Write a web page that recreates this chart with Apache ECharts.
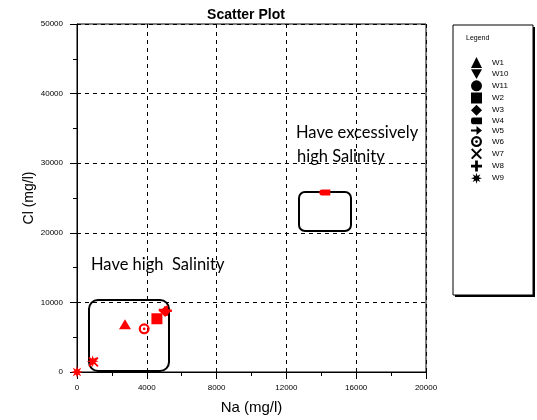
<!DOCTYPE html>
<html>
<head>
<meta charset="utf-8">
<script src="https://cdn.jsdelivr.net/npm/echarts@6/dist/echarts.min.js"></script>
<style>
  html, body { margin: 0; padding: 0; background: #fff; }
  #chart { width: 537px; height: 420px; }
</style>
</head>
<body>
<div id="chart"></div>
<script>
// Well names, in legend order
const wells = ['W1', 'W10', 'W11', 'W2', 'W3', 'W4', 'W5', 'W6', 'W7', 'W8', 'W9'];

// [Na (mg/l), Cl (mg/l)] samples per well
const W1 = [[2750, 6850]];
const W10 = [];
const W11 = [];
const W2 = [[4580, 7650]];
const W3 = [[5050, 8700]];
const W4 = [[14200, 25800]];
const W5 = [[5000, 8900]];
const W6 = [[3850, 6200]];
const W7 = [[950, 1450]];
const W8 = [[5150, 8800]];
const W9 = [[0, 0], [900, 1550]];

const xTicks = { min: 0, max: 20000, step: 4000 };
const yTicks = { min: 0, max: 50000, step: 10000 };

const seriesData = { W1, W10, W11, W2, W3, W4, W5, W6, W7, W8, W9 };

// Marker shapes
const shapes = {
  W1: 'triangle',
  W10: 'path://M0,0 L20,0 L10,18 Z',
  W11: 'circle',
  W2: 'rect',
  W3: 'diamond',
  W4: 'path://M0,4 Q0,0 4,0 L16,0 L16,8 L4,8 Q0,8 0,4 Z',
  W5: 'path://M0,5 L9,5 L9,1 L18,7 L9,13 L9,9 L0,9 Z',
  W6: 'path://M10,0 A10,10 0 1,1 10,20 A10,10 0 1,1 10,0 Z M10,4 A6,6 0 1,0 10,16 A6,6 0 1,0 10,4 Z M10,7.5 A2.5,2.5 0 1,1 10,12.5 A2.5,2.5 0 1,1 10,7.5 Z',
  W7: 'path://M2,0 L8,6 L14,0 L16,2 L10,8 L16,14 L14,16 L8,10 L2,16 L0,14 L6,8 L0,2 Z',
  W8: 'path://M6,0 L10,0 L10,6 L16,6 L16,10 L10,10 L10,16 L6,16 L6,10 L0,10 L0,6 L6,6 Z',
  W9: 'path://M20,10 L14.16,11.72 L17.07,17.07 L11.72,14.16 L10,20 L8.28,14.16 L2.93,17.07 L5.84,11.72 L0,10 L5.84,8.28 L2.93,2.93 L8.28,5.84 L10,0 L11.72,5.84 L17.07,2.93 L14.16,8.28 Z'
};
const sizes = {
  W1: [12, 10], W10: 11, W11: 11, W2: 11, W3: 11, W4: [11, 6],
  W5: [11, 8], W6: 11, W7: 10, W8: 10, W9: 12
};
// legend icon sizes keep each shape's proportions
const legendShapes = {
  W4: 'path://M0,2 Q0,0 2,0 L10,0 L10,6 L2,6 Q0,6 0,4 Z',
  W5: 'path://M0,4 L5,4 L5,1 L10,5 L5,9 L5,6 L0,6 Z'
};

const chart = echarts.init(document.getElementById('chart'), null, { renderer: 'canvas' });

const dashed = { color: '#000', width: 1, type: [4, 4] };
const labelFont = 'Arial, "Liberation Sans", sans-serif';
const noteFont = 'Lato, "Open Sans", sans-serif';
const plain = function (v) { return String(v); };

chart.setOption({
  animation: false,
  backgroundColor: '#fff',
  title: {
    text: 'Scatter Plot',
    left: 241, top: 3, textAlign: 'center',
    textStyle: { fontFamily: '"Liberation Sans Narrow", "Liberation Sans", Arial, sans-serif', fontWeight: 'bold', fontSize: 14, color: '#000' }
  },
  grid: {
    left: 77, right: 111, top: 24, bottom: 48,
    show: true, borderColor: '#000', borderWidth: 1, backgroundColor: 'transparent'
  },
  xAxis: {
    type: 'value', min: xTicks.min, max: xTicks.max, interval: xTicks.step,
    name: 'Na (mg/l)', nameLocation: 'middle', nameGap: 28,
    nameTextStyle: { fontFamily: labelFont, fontSize: 15, color: '#000' },
    axisLine: { show: true, lineStyle: { color: '#000', width: 1 } },
    axisTick: { show: true, length: 7, lineStyle: { color: '#000' } },
    minorTick: { show: true, splitNumber: 2, length: 4, lineStyle: { color: '#000' } },
    splitLine: { show: true, lineStyle: dashed },
    axisLabel: { fontFamily: labelFont, fontSize: 8, color: '#000', margin: 12, formatter: plain }
  },
  yAxis: {
    type: 'value', min: yTicks.min, max: yTicks.max, interval: yTicks.step,
    name: 'Cl (mg/l)', nameLocation: 'middle', nameGap: 41, nameMoveOverlap: false,
    nameTextStyle: { fontFamily: labelFont, fontSize: 14, color: '#000' },
    axisLine: { show: true, lineStyle: { color: '#000', width: 1 } },
    axisTick: { show: true, length: 7, lineStyle: { color: '#000' } },
    minorTick: { show: true, splitNumber: 2, length: 4, lineStyle: { color: '#000' } },
    splitLine: { show: true, lineStyle: dashed },
    axisLabel: { fontFamily: labelFont, fontSize: 8, color: '#000', margin: 14, formatter: plain }
  },
  legend: {
    orient: 'vertical', left: 466, top: 52,
    itemWidth: 11, itemHeight: 11, itemGap: 1.2,
    data: wells.map(function (w) {
      return { name: w, icon: legendShapes[w] || shapes[w] };
    }),
    itemStyle: { color: '#000', borderWidth: 0 },
    textStyle: { fontFamily: labelFont, fontSize: 8, color: '#000', padding: [0, 0, 0, 5] },
    selectedMode: false
  },
  series: wells.map(function (w) {
    return {
      name: w, type: 'scatter',
      data: seriesData[w],
      symbol: shapes[w], symbolSize: sizes[w],
      itemStyle: { color: '#ff0000', opacity: 1 },
      z: 5
    };
  }),
  graphic: [
    // legend frame with drop shadow
    { type: 'rect', shape: { x: 455, y: 27, width: 80, height: 270 }, style: { fill: '#000' }, z: -2 },
    { type: 'rect', shape: { x: 453, y: 25, width: 80, height: 270 }, style: { fill: '#fff', stroke: '#000', lineWidth: 1 }, z: -1 },
    { type: 'text', x: 466, y: 38, style: { text: 'Legend', fontFamily: labelFont, fontSize: 7, fill: '#000', verticalAlign: 'middle' } },
    // grouping boxes around the sample clusters
    { type: 'rect', shape: { x: 89, y: 300, width: 80, height: 71, r: 9 }, style: { fill: 'none', stroke: '#000', lineWidth: 2 }, z: 3 },
    { type: 'rect', shape: { x: 299, y: 192, width: 52, height: 39, r: 6 }, style: { fill: 'none', stroke: '#000', lineWidth: 2 }, z: 3 },
    // annotations
    { type: 'text', x: 296, y: 133, style: { text: 'Have excessively', fontFamily: noteFont, fontSize: 16.5, fill: '#000', verticalAlign: 'middle' }, z: 4 },
    { type: 'text', x: 297, y: 157, style: { text: 'high Salinity', fontFamily: noteFont, fontSize: 16.5, fill: '#000', verticalAlign: 'middle' }, z: 4 },
    { type: 'text', x: 91, y: 265, style: { text: 'Have high  Salinity', fontFamily: noteFont, fontSize: 16.5, fill: '#000', verticalAlign: 'middle' }, z: 4 }
  ]
});
</script>
</body>
</html>
